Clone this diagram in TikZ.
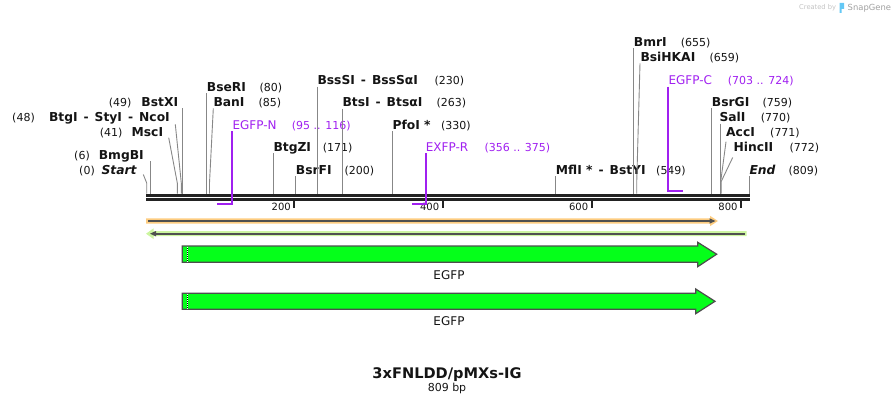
\documentclass[tikz,border=0pt]{standalone}
\usepackage{fontspec}
\setmainfont{DejaVu Sans}
\definecolor{primcol}{RGB}{160,32,240}
\definecolor{cutgray}{RGB}{135,135,135}
\definecolor{barcol}{RGB}{34,34,34}
\definecolor{orangeband}{RGB}{253,204,128}
\definecolor{greenband}{RGB}{204,245,160}
\definecolor{darkline}{RGB}{80,80,80}
\definecolor{egfpfill}{RGB}{5,255,26}
\definecolor{egfpedge}{RGB}{77,77,77}
\definecolor{txtcol}{RGB}{20,20,20}
\definecolor{wmlight}{RGB}{195,195,195}
\definecolor{wmdark}{RGB}{160,160,160}
\definecolor{wmblue}{RGB}{100,200,245}
\newcommand\sepdash{\hspace{6pt}-\hspace{6pt}}
\begin{document}
\begin{tikzpicture}[x=1pt,y=-1pt,
  enz/.style={font=\fontsize{12.3}{14}\selectfont\bfseries, inner sep=0pt, anchor=base west, text=txtcol},
  enzl/.style={enz, anchor=base east},
  enzit/.style={enz, font=\fontsize{12.3}{14}\selectfont\bfseries\itshape},
  enzitl/.style={enzit, anchor=base east},
  num/.style={font=\fontsize{11}{13}\selectfont, inner sep=0pt, anchor=base west, text=txtcol},
  numl/.style={num, anchor=base east},
  prim/.style={font=\fontsize{12}{14}\selectfont, inner sep=0pt, anchor=base west, text=primcol},
  primnum/.style={num, text=primcol},
  cutline/.style={draw=cutgray, line width=0.9pt},
  primline/.style={draw=primcol, line width=2pt},
  tickmark/.style={draw=barcol, line width=2pt},
  ticklabel/.style={font=\fontsize{10}{12}\selectfont, inner sep=0pt, anchor=base east, text=txtcol},
  featlabel/.style={font=\fontsize{12}{14}\selectfont, inner sep=0pt, anchor=base, text=txtcol},
  egfparrow/.style={fill=egfpfill, draw=egfpedge, line width=1.2pt, line join=miter}
]
\useasboundingbox (0,0) rectangle (896,404);

% watermark
\node[font=\fontsize{6.7}{8}\selectfont, text=wmlight, inner sep=0pt, anchor=base west] (wmcreated) at (799,10) {Created by};
\fill[wmblue] (839.5,3) rectangle (844,9) (839.5,3) rectangle (841.5,13);
\node[font=\fontsize{8.4}{10}\selectfont, text=wmdark, inner sep=0pt, anchor=base west] (wmsnap) at (847.5,10.5) {SnapGene};

% sequence bar
\draw[barcol, line width=2.7pt] (146,195.3) -- (749.5,195.3);
\draw[barcol, line width=2.7pt] (146,199.7) -- (749.5,199.7);

% ticks
\foreach \tx/\tl in {294.3/200, 442.7/400, 591.7/600, 741/800}{
  \draw[tickmark] (\tx,201) -- (\tx,208);
  \node[ticklabel] (tick\tl) at (\tx-3.3,210.7) {\tl};
}

% ---- left labels ----
\node[enzl] (nbstxi) at (178.3,106.7) {BstXI};
\node[numl] (pbstxi) at (131.7,106.7) {(49)};
\node[enzl] (nncoi) at (170,121.3) {BtgI\sepdash StyI\sepdash NcoI};
\node[numl] (pncoi) at (35,121.3) {(48)};
\node[enzl] (nmsci) at (163.3,136.7) {MscI};
\node[numl] (pmsci) at (122.7,136.7) {(41)};
\node[enzl] (nbmgbi) at (144,159.3) {BmgBI};
\node[numl] (pbmgbi) at (90,159.3) {(6)};
\node[enzitl] (nstart) at (136.7,174.3) {Start};
\node[numl] (pstart) at (95,174.3) {(0)};

% ---- right labels ----
\node[enz] (nbseri) at (206.7,91.3) {BseRI};
\node[num] (pbseri) at (259.3,91.3) {(80)};
\node[enz] (nbani) at (213.3,106.7) {BanI};
\node[num] (pbani) at (258.3,106.7) {(85)};
\node[prim] (negfpn) at (232.3,129) {EGFP-N};
\node[primnum] (pegfpn) at (291.7,129) {(95 .. 116)};
\node[enz] (nbtgzi) at (273.3,151.7) {BtgZI};
\node[num] (pbtgzi) at (322.7,151.7) {(171)};
\node[enz] (nbsrfi) at (295.7,174.3) {BsrFI};
\node[num] (pbsrfi) at (344.3,174.3) {(200)};
\node[enz] (nbsssi) at (317.3,84.6) {BssSI\sepdash BssSαI};
\node[num] (pbsssi) at (434.3,84.6) {(230)};
\node[enz] (nbtsi) at (342.3,106.9) {BtsI\sepdash BtsαI};
\node[num] (pbtsi) at (436.3,106.9) {(263)};
\node[enz] (npfoi) at (392.3,129) {PfoI *};
\node[num] (ppfoi) at (441,129) {(330)};
\node[prim] (nexfpr) at (425.7,151.3) {EXFP-R};
\node[primnum] (pexfpr) at (484.3,151.3) {(356 .. 375)};
\node[enz] (nmfli) at (555.7,174.3) {MflI *\sepdash BstYI};
\node[num] (pmfli) at (656,174.3) {(549)};
\node[enz] (nbmri) at (633.7,46.3) {BmrI};
\node[num] (pbmri) at (680.7,46.3) {(655)};
\node[enz] (nbsihkai) at (640.3,61.3) {BsiHKAI};
\node[num] (pbsihkai) at (709.3,61.3) {(659)};
\node[prim] (negfpc) at (668.3,84.6) {EGFP-C};
\node[primnum] (pegfpc) at (727.7,84.6) {(703 .. 724)};
\node[enz] (nbsrgi) at (711.7,106.5) {BsrGI};
\node[num] (pbsrgi) at (762.3,106.5) {(759)};
\node[enz] (nsali) at (719.3,121.8) {SalI};
\node[num] (psali) at (760.7,121.8) {(770)};
\node[enz] (nacci) at (726,136.3) {AccI};
\node[num] (pacci) at (770,136.3) {(771)};
\node[enz] (nhincii) at (733.3,151.3) {HincII};
\node[num] (phincii) at (789.3,151.3) {(772)};
\node[enzit] (nend) at (749.3,174.3) {End};
\node[num] (pend) at (788.3,174.3) {(809)};

% ---- cut site lines ----
\draw[cutline] (143.3,174.5) -- (146.7,183) -- (146.7,193.5);
\draw[cutline] (150.7,161) -- (150.7,193.5);
\draw[cutline] (168.7,137.7) -- (177.3,183) -- (177.3,193.5);
\draw[cutline] (175.3,124.3) -- (181.3,183) -- (181.3,193.5);
\draw[cutline] (182.7,108.3) -- (182.7,193.5);
\draw[cutline] (206.7,93) -- (206.7,193.5);
\draw[cutline] (213.3,108.3) -- (209.5,183) -- (209.5,193.5);
\draw[cutline] (273.3,153.3) -- (273.3,193.5);
\draw[cutline] (295.7,176) -- (295.7,193.5);
\draw[cutline] (317.3,86.7) -- (317.3,193.5);
\draw[cutline] (342.3,108.7) -- (342.3,193.5);
\draw[cutline] (392.3,131) -- (392.3,193.5);
\draw[cutline] (555.7,176) -- (555.7,193.5);
\draw[cutline] (633.7,48) -- (633.7,193.5);
\draw[cutline] (640,63.3) -- (636.7,183) -- (636.7,193.5);
\draw[cutline] (711.3,108.3) -- (711.3,193.5);
\draw[cutline] (720,123.5) -- (720,193.5);
\draw[cutline] (726,141.7) -- (720.7,181.5) -- (720.7,193.5);
\draw[cutline] (732.7,157.5) -- (721.2,181.5) -- (721.2,193.5);
\draw[cutline] (749.3,176) -- (749.3,193.5);

% ---- primers ----
\draw[primline] (232.3,131) -- (232.3,204) -- (216.7,204);
\draw[primline] (425.7,153.3) -- (425.7,204) -- (411.7,204);
\draw[primline] (668.3,86.7) -- (668.3,191) -- (683.3,191);

% ---- orange feature (forward) ----
\fill[orangeband] (146,218.3) -- (710,218.3) -- (710,215.8) -- (718,221) -- (710,226.2) -- (710,223.7) -- (146,223.7) -- cycle;
\draw[darkline, line width=1.8pt] (148,221) -- (711,221);
\fill[darkline] (709.5,218.3) -- (715.5,221) -- (709.5,223.7) -- cycle;

% ---- green feature (reverse) ----
\fill[greenband] (146,233.7) -- (153.5,228.4) -- (153.5,231.2) -- (746.7,231.2) -- (746.7,236.2) -- (153.5,236.2) -- (153.5,239) -- cycle;
\draw[darkline, line width=1.8pt] (153,233.7) -- (745,233.7);
\fill[darkline] (150,233.7) -- (156,231) -- (156,236.4) -- cycle;

% ---- EGFP arrows ----
\draw[egfparrow] (182.3,246) -- (697.7,246) -- (697.7,242.3) -- (716.7,254.2) -- (697.7,266.7) -- (697.7,262.3) -- (182.3,262.3) -- cycle;
\draw[black, line width=0.8pt] (187,246.6) -- (187,261.7);
\draw[white, line width=0.8pt, dash pattern=on 1pt off 1pt] (187,246.6) -- (187,261.7);
\node[featlabel] (egfpa) at (449,279) {EGFP};

\draw[egfparrow] (182.3,293.3) -- (695.7,293.3) -- (695.7,289) -- (715,301.3) -- (695.7,313.7) -- (695.7,309.3) -- (182.3,309.3) -- cycle;
\draw[black, line width=0.8pt] (187,293.9) -- (187,308.7);
\draw[white, line width=0.8pt, dash pattern=on 1pt off 1pt] (187,293.9) -- (187,308.7);
\node[featlabel] (egfpb) at (449,325) {EGFP};

% ---- title ----
\node[font=\fontsize{14.6}{17}\selectfont\bfseries, inner sep=0pt, anchor=base, text=txtcol] (title) at (447,378.3) {3xFNLDD/pMXs-IG};
\node[font=\fontsize{11}{13}\selectfont, inner sep=0pt, anchor=base, text=txtcol] (size) at (447,391) {809 bp};
\end{tikzpicture}
\end{document}
